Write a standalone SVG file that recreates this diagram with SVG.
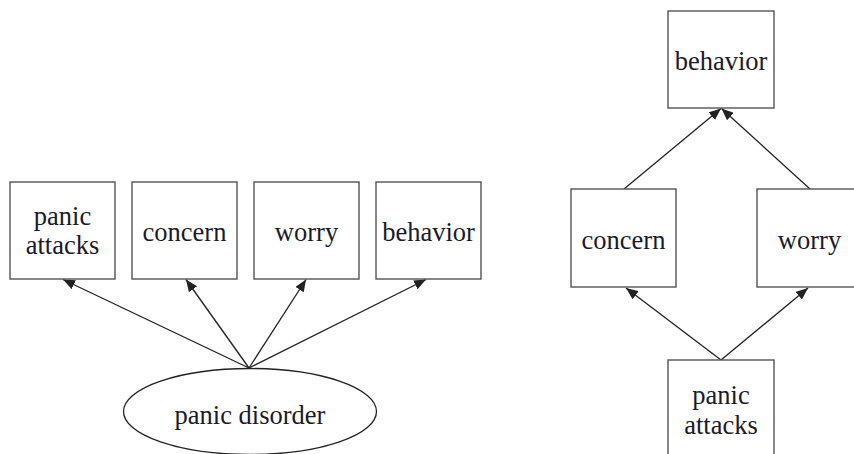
<svg xmlns="http://www.w3.org/2000/svg" width="854" height="454" viewBox="0 0 854 454">
<defs>
<style>
.box{fill:#fff;stroke:#555;stroke-width:1.4}
.lbl{font-size:26.5px;fill:#1a1a2a;text-anchor:middle}
.edge{stroke:#222;stroke-width:1.3;fill:none;marker-end:url(#ah)}
</style>
<marker id="ah" viewBox="0 0 12 10" refX="12" refY="5" markerWidth="12" markerHeight="10" markerUnits="userSpaceOnUse" orient="auto">
<path d="M0,0 L12,5 L0,10 Z" fill="#222"/>
</marker>
</defs>
<rect width="854" height="454" fill="#fff"/>
<g id="connectors">
<line class="edge" x1="249" y1="368" x2="63" y2="279.5"/>
<line class="edge" x1="249" y1="368" x2="186" y2="279.5"/>
<line class="edge" x1="249" y1="368" x2="306" y2="279.5"/>
<line class="edge" x1="249" y1="368" x2="426" y2="279.5"/>
<line class="edge" x1="624" y1="189" x2="721" y2="108.5"/>
<line class="edge" x1="810" y1="189" x2="721.5" y2="108.5"/>
<line class="edge" x1="721" y1="360" x2="626" y2="288"/>
<line class="edge" x1="721" y1="360" x2="808" y2="288"/>
</g>
<g font-family="'Times New Roman', 'Liberation Serif', 'DejaVu Serif', serif">
<g id="l-panic-attacks"><rect class="box" x="10" y="182" width="105" height="97"/><text class="lbl" x="62.5" y="225">panic</text><text class="lbl" x="62.5" y="254">attacks</text></g>
<g id="l-concern"><rect class="box" x="132" y="182" width="105" height="97"/><text class="lbl" x="184.5" y="240.5">concern</text></g>
<g id="l-worry"><rect class="box" x="254" y="182" width="105" height="97"/><text class="lbl" x="306.5" y="240.5">worry</text></g>
<g id="l-behavior"><rect class="box" x="376" y="182" width="105" height="97"/><text class="lbl" x="428.5" y="240.5">behavior</text></g>
<g id="panic-disorder"><ellipse cx="250" cy="411.5" rx="126.5" ry="43" fill="#fff" stroke="#222" stroke-width="1.3"/><text class="lbl" x="250" y="424">panic disorder</text></g>
<g id="r-behavior"><rect class="box" x="668" y="11" width="106" height="97"/><text class="lbl" x="721" y="69.5">behavior</text></g>
<g id="r-concern"><rect class="box" x="571" y="189" width="105" height="98"/><text class="lbl" x="623.5" y="248.5">concern</text></g>
<g id="r-worry"><rect class="box" x="757" y="189" width="105" height="98"/><text class="lbl" x="809.5" y="248.5">worry</text></g>
<g id="r-panic-attacks"><rect class="box" x="668" y="360" width="106" height="100"/><text class="lbl" x="721" y="403.5">panic</text><text class="lbl" x="721" y="434">attacks</text></g>
</g>
</svg>
